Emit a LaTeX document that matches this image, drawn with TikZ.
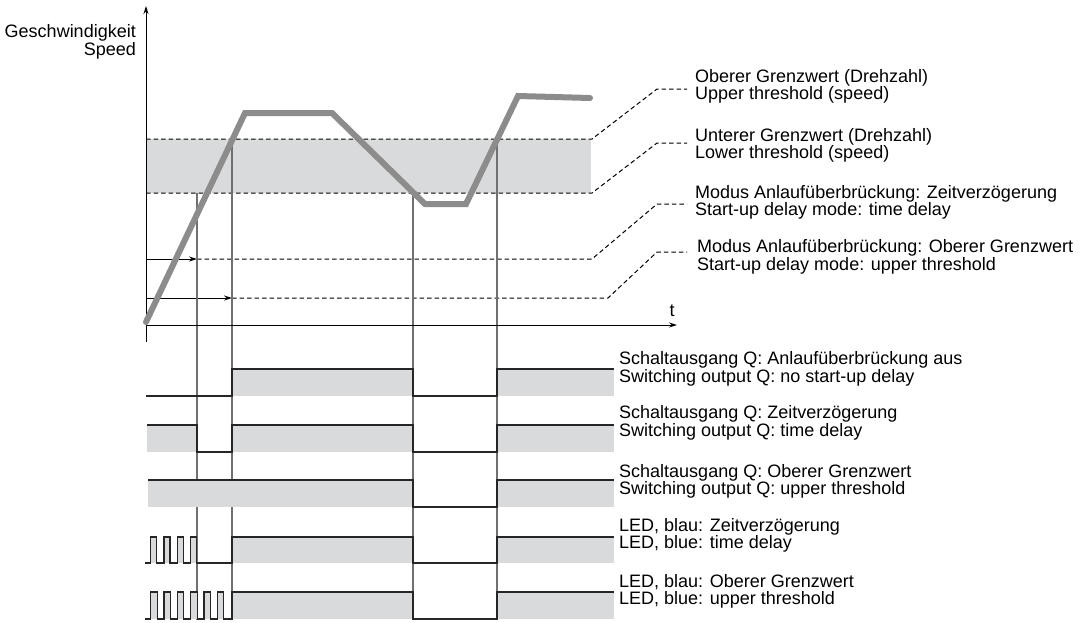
\documentclass[tikz,border=0pt]{standalone}
\usepackage{fontspec}
\setmainfont{Liberation Sans}
\usetikzlibrary{positioning, arrows.meta}
\definecolor{bandgray}{HTML}{D9DADB}
\definecolor{curvegray}{HTML}{8C8C8C}
\definecolor{markgray}{HTML}{707070}
\tikzset{
    x=1pt, y=-1pt, % one unit is one pixel of the drawing, y runs downwards
    >={Stealth[length=8pt, width=5pt]}, % small solid arrow heads
    every node/.style={font=\fontsize{18}{17.5}\selectfont, inner sep=0pt},
    lbl/.style={anchor=west, align=left}, % the two-line texts on the right
    thr/.style={dash pattern=on 4.5pt off 3pt, line width=1pt, draw=black}, % thresholds and leaders
    band/.style={fill=bandgray}, % grey areas
    sig/.style={line width=1.3pt, draw=black!85}, % switching signals
    marker/.style={line width=1.2pt, draw=markgray}, % vertical time marks
    speed/.style={line width=6pt, draw=curvegray, line cap=round}, % speed curve
}

\begin{document}
\begin{tikzpicture}
    \useasboundingbox (0,0) rectangle (1089,622);

    % band between the two thresholds
    \fill[band] (146,139) rectangle (591,193);

    % labels of the upper part
    \node[anchor=east, align=right] (ylab) at (136,42) {Geschwindigkeit\\Speed};
    \node (t) at (672,311) {t};
    \node[lbl] (upper) at (695,86.5) {Oberer Grenzwert (Drehzahl)\\Upper threshold (speed)};
    \node[lbl] (lower) at (695,145.5) {Unterer Grenzwert (Drehzahl)\\Lower threshold (speed)};
    \node[lbl] (modetime) at (695,202.5) {Modus Anlaufüberbrückung: Zeitverzögerung\\Start-up delay mode: time delay};
    \node[lbl] (modeup) at (697,257) {Modus Anlaufüberbrückung: Oberer Grenzwert\\Start-up delay mode: upper threshold};

    % thresholds with their leaders
    \coordinate (up0) at (146,139);
    \coordinate (up1) at (592,139);
    \coordinate (up2) at (657,89);
    \coordinate (lo0) at (146,193);
    \coordinate (lo1) at (592,193);
    \coordinate (lo2) at (657,143);
    \coordinate (mt0) at (146,259);
    \coordinate (mt1) at (197,259);
    \coordinate (mt2) at (592,259);
    \coordinate (mt3) at (657,204);
    \coordinate (mu0) at (146,298);
    \coordinate (mu1) at (232,298);
    \coordinate (mu2) at (608,298);
    \coordinate (mu3) at (657,252);
    \draw[thr] (up0) -- (up1) -- (up2) -- ([xshift=-8pt]upper.west |- up2);
    \draw[thr] (lo0) -- (lo1) -- (lo2) -- ([xshift=-8pt]lower.west |- lo2);
    \draw[->, line width=1pt] (mt0) -- (mt1);
    \draw[thr] (mt1) -- (mt2) -- (mt3) -- ([xshift=-8pt]modetime.west |- mt3);
    \draw[->, line width=1pt] (mu0) -- (mu1);
    \draw[thr] (mu1) -- (mu2) -- (mu3) -- ([xshift=-10pt]modeup.west |- mu3);

    % vertical time marks
    \draw[marker] (197,193) -- (197,620);
    \draw[marker] (232,139) -- (232,620);
    \draw[marker] (413,193) -- (413,620);
    \draw[marker] (497,139) -- (497,620);

    % axes
    \draw[->, line width=1pt] (146,342) -- (146,6);
    \draw[->, line width=1pt] (146,325) -- (677,325);

    % speed curve
    \draw[speed] (146,322) -- (245,113) -- (332,113) -- (425,204) -- (466,204) -- (518,96) -- (590,98);

    % grey areas of the signals
    \fill[band] (232,369) rectangle (413,396);
    \fill[band] (497,369) rectangle (614,396);
    \fill[band] (147,425) rectangle (197,452);
    \fill[band] (232,425) rectangle (413,452);
    \fill[band] (497,425) rectangle (614,452);
    \fill[band] (148,480) rectangle (413,507);
    \fill[band] (497,480) rectangle (614,507);
    \foreach \p in {150.7,164,177.3,190.7}
        \fill[band] (\p,537) rectangle (\p+6,563);
    \fill[band] (232,537) rectangle (413,563);
    \fill[band] (497,537) rectangle (614,563);
    \foreach \p in {150.7,164,177.3,190.7,204,217.3}
        \fill[band] (\p,592) rectangle (\p+6.5,619);
    \fill[band] (232,592) rectangle (413,619);
    \fill[band] (497,592) rectangle (614,619);

    % switching signals
    \draw[sig] (146,396) -- (232,396) -- (232,369) -- (413,369) -- (413,396) -- (497,396) -- (497,369) -- (614,369);
    \draw[sig] (147,425) -- (197,425) -- (197,452) -- (232,452) -- (232,425) -- (413,425) -- (413,452) -- (497,452) -- (497,425) -- (614,425);
    \draw[sig] (148,480) -- (413,480) -- (413,507) -- (497,507) -- (497,480) -- (614,480);
    \draw[sig] (145,563) foreach \p in {150.7,164,177.3,190.7} { -- (\p,563) -- (\p,537) -- (\p+6,537) -- (\p+6,563) }
        -- (232,563) -- (232,537) -- (413,537) -- (413,563) -- (497,563) -- (497,537) -- (614,537);
    \draw[sig] (145,619) foreach \p in {150.7,164,177.3,190.7,204,217.3} { -- (\p,619) -- (\p,592) -- (\p+6.5,592) -- (\p+6.5,619) }
        -- (232,619) -- (232,592) -- (413,592) -- (413,619) -- (497,619) -- (497,592) -- (614,592);

    % texts of the signals
    \node[lbl] (qoff) at (619,369) {Schaltausgang Q: Anlaufüberbrückung aus\\Switching output Q: no start-up delay};
    \node[lbl] (qtime) at (619,423) {Schaltausgang Q: Zeitverzögerung\\Switching output Q: time delay};
    \node[lbl] (qup) at (619,481.5) {Schaltausgang Q: Oberer Grenzwert\\Switching output Q: upper threshold};
    \node[lbl] (ledtime) at (619,535.5) {LED, blau: Zeitverzögerung\\LED, blue: time delay};
    \node[lbl] (ledup) at (619,591.5) {LED, blau: Oberer Grenzwert\\LED, blue: upper threshold};
\end{tikzpicture}
\end{document}
